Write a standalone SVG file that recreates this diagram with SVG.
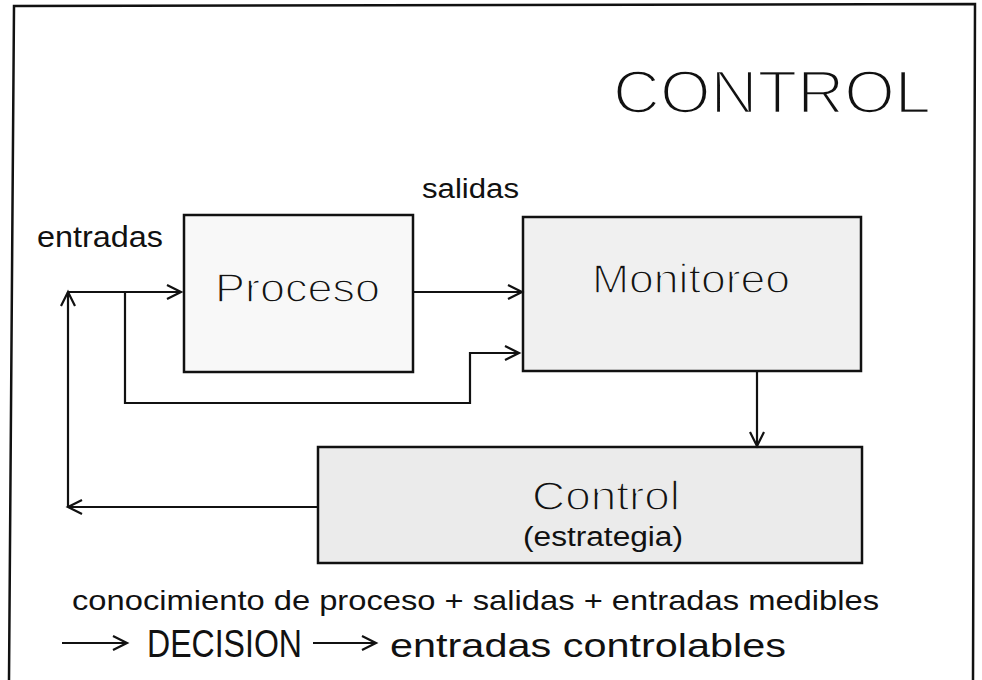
<svg xmlns="http://www.w3.org/2000/svg" width="982" height="680" viewBox="0 0 982 680">
<defs>
<style>
text{font-family:"Liberation Sans",Arial,sans-serif;fill:#111}
.box{stroke:#111;stroke-width:2.5}
.ln{fill:none;stroke:#111;stroke-width:2.2}
.thin{stroke-width:1.4;paint-order:stroke fill;paint-order:normal}
</style>
<marker id="ah" markerUnits="userSpaceOnUse" markerWidth="20" markerHeight="20" viewBox="-16 -10 20 20" refX="0" refY="0" orient="auto">
<path d="M-14,-7 L0,0 L-14,7" fill="none" stroke="#111" stroke-width="2.2"/>
</marker>
</defs>
<rect width="982" height="680" fill="#ffffff"/>
<g id="frame">
<path d="M9,680 L14,6 L975,4 L973,680" fill="none" stroke="#111" stroke-width="2.5"/>
</g>
<g id="title"><text x="613" y="113" font-size="62" textLength="318" lengthAdjust="spacingAndGlyphs" stroke="#fff" stroke-width="2.4">CONTROL</text></g>
<g id="label-salidas"><text x="422" y="198" font-size="27" textLength="97" lengthAdjust="spacingAndGlyphs">salidas</text></g>
<g id="label-entradas"><text x="37" y="247" font-size="29" textLength="126" lengthAdjust="spacingAndGlyphs">entradas</text></g>
<g id="proceso">
<rect class="box" x="184" y="215" width="229" height="157" fill="#f8f8f8"/>
<text x="215" y="302" font-size="41" textLength="165" lengthAdjust="spacingAndGlyphs" stroke="#f8f8f8" stroke-width="1.4">Proceso</text>
</g>
<g id="monitoreo">
<rect class="box" x="523" y="217" width="338" height="154" fill="#f0f0f0"/>
<text x="592" y="293" font-size="41" textLength="198" lengthAdjust="spacingAndGlyphs" stroke="#f0f0f0" stroke-width="1.4">Monitoreo</text>
</g>
<g id="control">
<rect class="box" x="318" y="447" width="544" height="116" fill="#ebebeb"/>
<text x="532" y="510" font-size="41" textLength="148" lengthAdjust="spacingAndGlyphs" stroke="#ebebeb" stroke-width="1.4">Control</text>
<text x="523" y="546" font-size="27" textLength="160" lengthAdjust="spacingAndGlyphs">(estrategia)</text>
</g>
<g id="connectors">
<path class="ln" d="M318,507 H68" marker-end="url(#ah)"/>
<path class="ln" d="M68,507 V292" marker-end="url(#ah)"/>
<path class="ln" d="M68,292 H181" marker-end="url(#ah)"/>
<path class="ln" d="M125,292 V403 H470 V353 H519" marker-end="url(#ah)"/>
<path class="ln" d="M413,292 H522" marker-end="url(#ah)"/>
<path class="ln" d="M757,371 V446" marker-end="url(#ah)"/>
<path class="ln" d="M62,643 H127" marker-end="url(#ah)"/>
<path class="ln" d="M313,643 H376" marker-end="url(#ah)"/>
</g>
<g id="caption">
<text x="72" y="610" font-size="28" textLength="807" lengthAdjust="spacingAndGlyphs">conocimiento de proceso + salidas + entradas medibles</text>
<text x="147" y="657" font-size="38" textLength="155" lengthAdjust="spacingAndGlyphs">DECISION</text>
<text x="390" y="657" font-size="33" textLength="396" lengthAdjust="spacingAndGlyphs">entradas controlables</text>
</g>
</svg>
